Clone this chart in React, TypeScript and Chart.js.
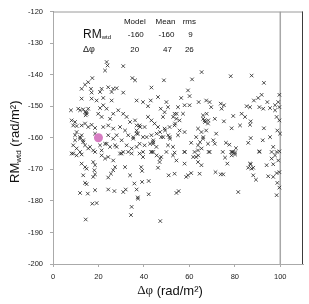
import React, { useEffect, useRef } from "react";
import { Chart, registerables } from "chart.js";

Chart.register(...registerables);

// Δφ (rad/m²), RM_wtd (rad/m²) pairs
const scatterPoints: [number, number][] = [
  [23.6, -136.0], [24.0, -137.1], [22.9, -138.7], [30.9, -137.3], [34.9, -141.1], [36.1, -141.8],
  [17.3, -141.1], [15.5, -142.4], [14.1, -143.2], [12.6, -144.5], [16.7, -144.5], [17.0, -145.7],
  [20.7, -145.5], [21.4, -144.5], [24.3, -144.0], [26.5, -144.5], [28.0, -144.3], [25.8, -145.5],
  [30.9, -145.7], [12.6, -147.6], [17.0, -147.6], [19.2, -148.2], [22.1, -147.4], [25.8, -148.2],
  [36.8, -148.2], [7.9, -151.3], [11.1, -150.8], [13.3, -151.0], [14.8, -151.9], [15.5, -150.8],
  [14.4, -152.9], [20.7, -150.6], [22.1, -149.7], [23.6, -150.8], [19.9, -152.4], [21.4, -153.4],
  [25.1, -154.0], [26.5, -152.4], [28.7, -151.3], [30.9, -152.4], [32.4, -153.4], [33.9, -155.0],
  [36.1, -154.5], [36.8, -156.1], [8.2, -154.5], [9.7, -155.0], [8.9, -156.1], [10.4, -156.3],
  [12.6, -156.1], [14.1, -155.5], [15.5, -156.6], [17.0, -155.9], [18.5, -156.9], [22.1, -156.6],
  [24.3, -156.1], [26.5, -157.1], [29.5, -156.6], [31.7, -157.7], [12.6, -159.2], [11.9, -160.3],
  [13.3, -160.8], [9.7, -160.8], [8.9, -162.4], [10.4, -163.4], [14.1, -162.4], [15.5, -163.4],
  [18.5, -158.7], [24.3, -159.2], [26.5, -160.3], [28.0, -159.2], [30.2, -160.8], [33.1, -159.2],
  [35.3, -160.3], [36.8, -158.7], [22.9, -161.9], [25.1, -162.9], [27.3, -162.4], [21.4, -164.0],
  [18.5, -164.5], [32.4, -162.4], [34.6, -163.4], [36.8, -162.9], [8.9, -165.0], [12.6, -165.3],
  [30.2, -165.0],
  [8.2, -165.0], [10.4, -165.6], [11.9, -164.5], [12.6, -168.2], [14.1, -169.3], [14.8, -169.8],
  [13.3, -171.9], [14.1, -174.3], [14.8, -174.7], [17.7, -167.7], [18.5, -168.7], [18.2, -170.3],
  [18.5, -171.6], [17.7, -172.4], [21.4, -165.6], [22.9, -166.6], [24.3, -166.1], [26.5, -167.2],
  [27.3, -169.3], [26.5, -170.3], [25.5, -171.4], [24.3, -172.6], [29.5, -165.0], [31.7, -169.3],
  [33.1, -164.5], [34.6, -165.0], [33.9, -171.9], [35.8, -174.5], [36.8, -176.4], [11.9, -177.5],
  [15.3, -177.7], [18.5, -176.6], [24.3, -176.4], [27.0, -176.9], [30.9, -177.2], [32.0, -176.4],
  [17.3, -180.9], [19.2, -180.7], [34.6, -181.9], [34.3, -184.5], [14.4, -185.9], [37.3, -178.9],
  [48.8, -141.8], [61.2, -141.5], [43.3, -144.1], [59.4, -145.0], [60.1, -146.8], [46.2, -147.1],
  [56.4, -147.4], [39.6, -148.7], [43.0, -148.2], [41.8, -150.0], [49.9, -148.7], [57.9, -149.7],
  [60.1, -149.7], [64.1, -148.7], [67.4, -148.2], [68.9, -148.7], [73.8, -149.2], [47.4, -150.8],
  [50.6, -150.3], [49.1, -151.9], [55.0, -150.3], [53.5, -152.4], [54.3, -154.0], [55.7, -154.5],
  [57.2, -152.4], [48.4, -153.4], [41.8, -153.4], [43.3, -154.5], [69.6, -150.3], [66.0, -152.9],
  [66.7, -154.5], [68.2, -155.5], [71.2, -154.0], [38.1, -156.1], [40.3, -156.6], [44.7, -155.5],
  [46.2, -156.6], [49.1, -157.1], [51.3, -156.6], [53.5, -156.1], [55.7, -157.7], [57.9, -158.2],
  [63.8, -157.1], [65.3, -158.2], [67.4, -157.7], [71.8, -158.7], [37.4, -158.7], [39.6, -159.8],
  [43.3, -159.2], [47.6, -159.8], [51.3, -159.8], [55.0, -159.2], [63.0, -159.8], [66.0, -160.3],
  [38.1, -161.9], [40.3, -162.4], [44.0, -161.9], [45.5, -162.9], [50.6, -162.4], [52.8, -162.9],
  [60.8, -161.6], [63.8, -162.4], [68.2, -161.9], [71.2, -161.9], [39.6, -164.5], [43.3, -164.5],
  [49.9, -164.5], [53.5, -164.7], [57.9, -164.5], [63.8, -164.0], [68.9, -164.5],
  [38.1, -165.0], [39.6, -166.1], [38.8, -169.3], [39.2, -170.5], [43.3, -164.5], [47.6, -166.1],
  [46.9, -167.7], [52.8, -165.6], [54.3, -167.2], [57.9, -168.2], [57.9, -164.5], [62.3, -164.5],
  [63.0, -166.1], [63.8, -167.7], [65.3, -168.7], [68.5, -164.5], [46.2, -169.5], [50.9, -171.9],
  [53.5, -171.4], [58.6, -172.4], [59.4, -171.9], [60.8, -171.2], [64.5, -171.4], [71.5, -170.9],
  [73.8, -171.6], [39.2, -174.0], [42.1, -173.7], [42.1, -177.9], [54.3, -177.5], [55.3, -176.9],
  [37.4, -179.3], [47.2, -186.4], [65.4, -139.2],
  [78.2, -140.5], [87.4, -140.3], [92.8, -142.6], [91.8, -146.4], [90.3, -147.4], [88.4, -148.2],
  [94.3, -148.7], [99.6, -146.4], [99.1, -148.7], [97.7, -149.7], [75.2, -149.7], [74.2, -150.8],
  [85.2, -150.0], [86.7, -150.3], [90.8, -150.3], [92.5, -150.8], [95.5, -150.6], [97.7, -151.3],
  [99.6, -150.3], [79.3, -153.1], [83.0, -152.4], [84.5, -153.4], [98.4, -153.4], [99.6, -154.5],
  [75.2, -154.8], [87.0, -154.8], [86.7, -155.9], [82.3, -156.1], [78.6, -157.0], [92.8, -157.0],
  [98.7, -157.7], [99.9, -158.7], [95.5, -159.8], [87.0, -160.1], [85.9, -161.6], [92.3, -160.8],
  [76.1, -161.6], [77.6, -162.2], [80.5, -163.3], [78.6, -164.5], [80.1, -164.7], [90.8, -164.3],
  [96.9, -162.9], [96.2, -164.5], [98.4, -164.5], [99.6, -164.3],
  [74.7, -164.5], [75.7, -166.3], [76.7, -168.2], [74.9, -171.6], [78.6, -164.5], [80.1, -165.3],
  [87.0, -168.4], [85.9, -169.5], [88.1, -169.5], [88.1, -171.9], [89.3, -173.3], [90.8, -164.5],
  [94.0, -168.7], [94.7, -172.2], [96.9, -172.4], [96.2, -166.6], [97.7, -165.6], [99.1, -167.2],
  [99.6, -170.9], [98.4, -171.2], [98.7, -174.3], [99.6, -175.8], [98.4, -178.2], [81.5, -177.2],
  [96.9, -168.4],
  [44.1, -161.4], [42.7, -161.9], [47.1, -158.2], [49.3, -157.7], [50.7, -159.2], [51.5, -160.3],
  [48.5, -159.8], [52.9, -153.4], [54.4, -152.4], [53.7, -155.5], [66.1, -154.0], [66.9, -155.0],
  [68.3, -154.5], [67.6, -152.4], [66.1, -159.8], [64.7, -161.4], [70.5, -160.8], [63.9, -165.6],
  [61.7, -166.1], [65.4, -163.4], [79.3, -164.5], [78.6, -165.6], [86.7, -168.2], [87.4, -169.8],
  [44.1, -164.5], [45.6, -165.6], [47.1, -166.6],
  [11.9, -151.3], [14.1, -151.9], [14.8, -152.4], [10.4, -158.2], [9.7, -159.2], [11.9, -159.8],
  [13.3, -161.4], [16.3, -162.9], [17.7, -164.0], [20.7, -162.4], [23.6, -161.9], [28.0, -162.9],
  [30.9, -164.5], [35.3, -159.8], [36.8, -157.7], [38.3, -156.6], [41.2, -159.8], [44.1, -160.8],
  [45.6, -158.7],
];

const modelDphi = 20;
const modelRM = -160;
const cutoffDphi = 100;

const tableHeaders = ["Model", "Mean", "rms"];
const rmRow = ["-160", "-160", "9"];
const dphiRow = ["20", "47", "26"];

const xTickMin = 0;
const xTickMax = 110;
const xTickStep = 20;
const yTickMin = -200;
const yTickMax = -120;
const yTickStep = 10;

const SANS = "'Liberation Sans', Arial, sans-serif";
const SERIF = "'Liberation Serif', 'Times New Roman', serif";

const overlayPlugin = {
  id: "overlay",
  afterDraw(chart: any) {
    const { ctx, chartArea: a, scales } = chart;
    const xs = scales.x;
    const ys = scales.y;
    ctx.save();
    // frame: top and right
    ctx.lineWidth = 1;
    ctx.strokeStyle = "#9a9a9a";
    ctx.beginPath();
    ctx.moveTo(a.left, a.top + 0.5);
    ctx.lineTo(a.right, a.top + 0.5);
    ctx.stroke();
    ctx.strokeStyle = "#3c3c3c";
    ctx.beginPath();
    ctx.moveTo(a.right - 0.5, a.top);
    ctx.lineTo(a.right - 0.5, a.bottom);
    ctx.stroke();

    // table
    ctx.fillStyle = "#111";
    ctx.textBaseline = "middle";
    const colX = [36, 49.5, 60].map((v) => xs.getPixelForValue(v));
    const rowY = [-123.2, -127.3, -132.0].map((v) => ys.getPixelForValue(v));
    ctx.font = `8px ${SANS}`;
    ctx.textAlign = "center";
    tableHeaders.forEach((t, i) => ctx.fillText(t, colX[i], rowY[0]));
    rmRow.forEach((t, i) => ctx.fillText(t, colX[i] + 1, rowY[1]));
    dphiRow.forEach((t, i) => ctx.fillText(t, colX[i] + (i === 1 ? 2 : 0), rowY[2]));
    const labelX = xs.getPixelForValue(13.2);
    ctx.textAlign = "left";
    ctx.font = `12px ${SANS}`;
    ctx.fillText("RM", labelX, rowY[1]);
    const rmW = ctx.measureText("RM").width;
    ctx.font = `6px ${SANS}`;
    ctx.fillText("wtd", labelX + rmW, rowY[1] + 3);
    ctx.font = `9px ${SANS}`;
    ctx.fillText("Δφ", labelX, rowY[2]);

    // y title
    ctx.save();
    const cy = (a.top + a.bottom) / 2 + 4;
    ctx.translate(15, cy);
    ctx.rotate(-Math.PI / 2);
    ctx.fillStyle = "#111";
    ctx.textAlign = "left";
    ctx.textBaseline = "middle";
    ctx.font = `13px ${SANS}`;
    const w1 = ctx.measureText("RM").width;
    const w3 = ctx.measureText(" (rad/m²)").width;
    ctx.font = `8px ${SANS}`;
    const w2 = ctx.measureText("wtd").width;
    let sx = -(w1 + w2 + w3) / 2;
    ctx.font = `13px ${SANS}`;
    ctx.fillText("RM", sx, 0);
    sx += w1;
    ctx.font = `8px ${SANS}`;
    ctx.fillText("wtd", sx, 3.5);
    sx += w2;
    ctx.font = `13px ${SANS}`;
    ctx.fillText(" (rad/m²)", sx, 0);
    ctx.restore();

    // x title
    ctx.textBaseline = "middle";
    ctx.textAlign = "left";
    ctx.font = `13px ${SERIF}`;
    const d1 = ctx.measureText("Δφ").width;
    ctx.font = `13px ${SANS}`;
    const d2 = ctx.measureText(" (rad/m²)").width;
    let tx = (a.left + a.right) / 2 - 8 - (d1 + d2) / 2;
    const ty = a.bottom + 27;
    ctx.font = `13px ${SERIF}`;
    ctx.fillText("Δφ", tx, ty);
    tx += d1;
    ctx.font = `13px ${SANS}`;
    ctx.fillText(" (rad/m²)", tx, ty);
    ctx.restore();
  },
};

export default function App() {
  const canvasRef = useRef<HTMLCanvasElement | null>(null);

  useEffect(() => {
    if (!canvasRef.current) return;
    const chart = new Chart(canvasRef.current, {
      type: "scatter",
      data: {
        datasets: [
          {
            label: "model",
            data: [{ x: modelDphi, y: modelRM }],
            pointStyle: "circle",
            pointRadius: 4.5,
            backgroundColor: "#d67cc2",
            borderWidth: 0,
          },
          {
            label: "points",
            data: scatterPoints.map(([x, y]) => ({ x, y })),
            pointStyle: "crossRot",
            pointRadius: 2.5,
            borderColor: "rgba(35,35,35,0.8)",
            borderWidth: 1,
          },
          {
            label: "cutoff",
            data: [
              { x: cutoffDphi, y: yTickMin },
              { x: cutoffDphi, y: yTickMax },
            ],
            showLine: true,
            pointRadius: 0,
            borderColor: "#a8a8a8",
            borderWidth: 1.5,
          },
        ],
      },
      options: {
        animation: false,
        responsive: true,
        maintainAspectRatio: false,
        layout: { padding: { left: 0, right: 6, top: 11, bottom: 0 } },
        plugins: {
          legend: { display: false },
          tooltip: { enabled: false },
        },
        scales: {
          x: {
            type: "linear",
            min: xTickMin,
            max: xTickMax,
            afterFit: (s: any) => {
              s.height = 40;
            },
            ticks: {
              stepSize: xTickStep,
              includeBounds: false,
              color: "#222",
              font: { family: SANS, size: 7.5 },
              padding: 5,
              maxRotation: 0,
            },
            grid: { display: true, drawOnChartArea: false, tickLength: 3, color: "#aaa" },
            border: { display: true, color: "#aaa", width: 1 },
          },
          y: {
            type: "linear",
            min: yTickMin,
            max: yTickMax,
            afterFit: (s: any) => {
              s.width = 53;
            },
            ticks: {
              stepSize: yTickStep,
              color: "#222",
              font: { family: SANS, size: 7.5 },
              padding: 7,
            },
            grid: { display: true, drawOnChartArea: false, tickLength: 3, color: "#aaa" },
            border: { display: true, color: "#aaa", width: 1 },
          },
        },
      },
      plugins: [overlayPlugin],
    });
    return () => chart.destroy();
  }, []);

  return (
    <div style={{ position: "fixed", left: 0, top: 0, width: 309, height: 304, background: "#fff" }}>
      <canvas ref={canvasRef} />
    </div>
  );
}
